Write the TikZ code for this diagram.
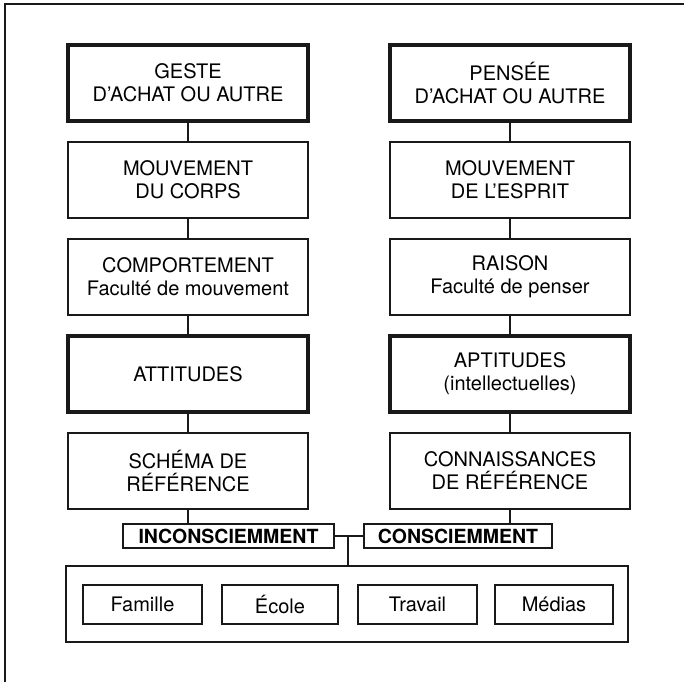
\documentclass[tikz,border=0pt]{standalone}
\usepackage{fontspec}
\setmainfont{TeX Gyre Heros}
\begin{document}
\begin{tikzpicture}[x=1pt,y=-1pt,
  ink/.style={draw=black!90},
  boxbase/.style={ink, align=center, text=black, font=\fontsize{20pt}{23pt}\selectfont,
    minimum width=240pt, minimum height=76pt, inner sep=0pt},
  thinbox/.style={boxbase, line width=1.3pt},
  thickbox/.style={boxbase, line width=3.2pt},
  tagbox/.style={ink, line width=1.6pt, text=black, font=\fontsize{19.5pt}{23pt}\selectfont\bfseries,
    minimum height=24pt, inner sep=0pt},
  srcbox/.style={ink, line width=1.3pt, text=black, font=\fontsize{20pt}{23pt}\selectfont,
    minimum height=39pt, inner sep=0pt},
  link/.style={draw=black!90, line width=1.3pt}]
\fill[white] (0,0) rectangle (684,682);
\useasboundingbox (0,0) rectangle (684,682);
\draw[ink, line width=2pt] (5,682) -- (5,4) -- (684,4);

% left column
\node[thickbox] (g1) at (188,83) {GESTE\\D'ACHAT OU AUTRE};
\node[thinbox]  (g2) at (188,180) {MOUVEMENT\\DU CORPS};
\node[thinbox]  (g3) at (188,277) {COMPORTEMENT\\Faculté de mouvement};
\node[thickbox] (g4) at (188,374) {ATTITUDES};
\node[thinbox]  (g5) at (188,471) {SCHÉMA DE\\RÉFÉRENCE};

% right column
\node[thickbox] (d1) at (510,83) {PENSÉE\\D'ACHAT OU AUTRE};
\node[thinbox]  (d2) at (510,180) {MOUVEMENT\\DE L'ESPRIT};
\node[thinbox]  (d3) at (510,277) {RAISON\\Faculté de penser};
\node[thickbox] (d4) at (510,374) {APTITUDES\\(intellectuelles)};
\node[thinbox]  (d5) at (510,471) {CONNAISSANCES\\DE RÉFÉRENCE};

% tags
\node[tagbox, minimum width=211pt] (inc) at (228.5,536) {INCONSCIEMMENT};
\node[tagbox, minimum width=188pt] (con) at (458,536) {CONSCIEMMENT};

% container and sources
\node[ink, line width=1.5pt, minimum width=562pt, minimum height=76pt, inner sep=0pt] (cont) at (347,604) {};
\node[srcbox, minimum width=119pt] (s1) at (142.5,604.5) {Famille};
\node[srcbox, minimum width=116pt] (s2) at (280,604.5) {École};
\node[srcbox, minimum width=119pt] (s3) at (417.5,604.5) {Travail};
\node[srcbox, minimum width=118pt] (s4) at (554,604.5) {Médias};

\coordinate (j) at (348,536);

% connectors
\draw[link] (g1.south) -- (g2.north);
\draw[link] (g2.south) -- (g3.north);
\draw[link] (g3.south) -- (g4.north);
\draw[link] (g4.south) -- (g5.north);
\draw[link] (d1.south) -- (d2.north);
\draw[link] (d2.south) -- (d3.north);
\draw[link] (d3.south) -- (d4.north);
\draw[link] (d4.south) -- (d5.north);
\draw[link] (g5.south) -- (g5.south |- inc.north);
\draw[link] (d5.south) -- (d5.south |- con.north);
\draw[link] (inc.east) -- (con.west);
\draw[link] (j) -- (j |- cont.north);
\end{tikzpicture}
\end{document}
